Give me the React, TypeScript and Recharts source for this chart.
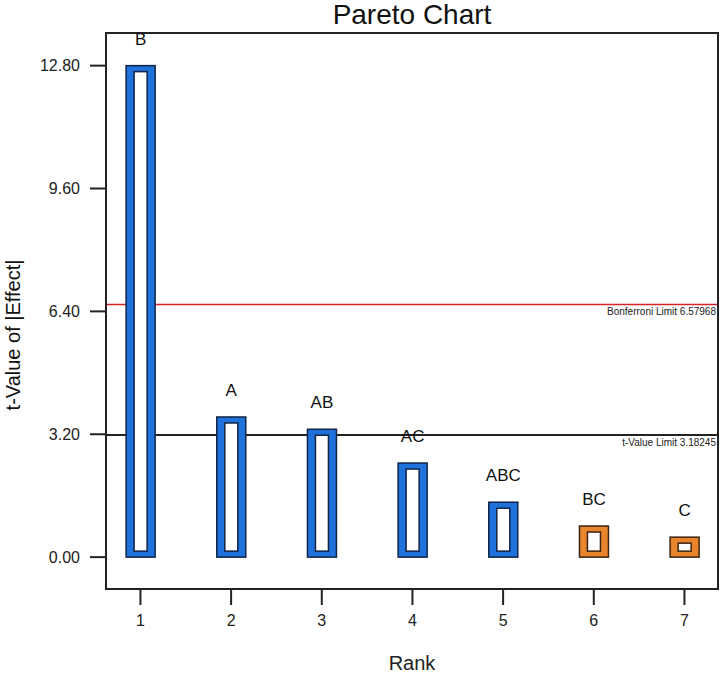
import { BarChart, Bar, XAxis, YAxis, ReferenceLine, ReferenceArea, LabelList } from 'recharts';

// Pareto chart of standardized effects
const ranks = [1, 2, 3, 4, 5, 6, 7];
const terms = ['B', 'A', 'AB', 'AC', 'ABC', 'BC', 'C'];
const tValues = [12.8, 3.65, 3.33, 2.45, 1.43, 0.81, 0.52];
const effectSigns = ['+', '+', '+', '+', '+', '-', '-'];

const yTicks = [0, 3.2, 6.4, 9.6, 12.8];
const xDomain = [0.62, 7.37];
const yDomain = [-0.83, 13.65];

const bonferroniLimit = 6.57968;
const tValueLimit = 3.18245;

const data = ranks.map((rank, i) => ({
  rank,
  term: terms[i],
  tValue: tValues[i],
  sign: effectSigns[i],
}));

const FONT = '"Liberation Sans", Arial, sans-serif';

function EffectBar(props: any) {
  const { x, y, width, height, payload } = props;
  const positive = payload.sign === '+';
  const fill = positive ? '#1f72dc' : '#e8842c';
  const edge = positive ? '#0f2446' : '#3b2410';
  return (
    <g>
      <rect x={x} y={y} width={width} height={height} fill={fill} stroke={edge} strokeWidth={1.5} />
      <rect
        x={x + 8}
        y={y + 6}
        width={Math.max(width - 16, 0)}
        height={Math.max(height - 12, 0)}
        fill="#ffffff"
        stroke={edge}
        strokeWidth={1.5}
      />
    </g>
  );
}

function TermLabel(props: any) {
  const { x, y, width, value } = props;
  return (
    <text x={x + width / 2} y={y - 21} textAnchor="middle" fontSize={17} fontFamily={FONT} fill="#111">
      {value}
    </text>
  );
}

function LimitLabel({ viewBox, text }: any) {
  return (
    <text
      x={viewBox.x + viewBox.width - 2}
      y={viewBox.y + 11}
      textAnchor="end"
      fontSize={10}
      fontFamily={FONT}
      fill="#222"
    >
      {text}
    </text>
  );
}

function YTitle() {
  return (
    <text
      x={13}
      y={335}
      transform="rotate(-90, 13, 335)"
      textAnchor="middle"
      dominantBaseline="central"
      fontSize={20}
      fontFamily={FONT}
      fill="#111"
    >
      t-Value of |Effect|
    </text>
  );
}

function XTitle() {
  return (
    <text x={412} y={670} textAnchor="middle" fontSize={20} fontFamily={FONT} fill="#222">
      Rank
    </text>
  );
}

export default function App() {
  return (
    <div style={{ position: 'absolute', left: 0, top: 0, width: 722, height: 674, background: '#fff' }}>
      <div
        style={{
          position: 'absolute',
          left: 0,
          top: 1,
          width: 824,
          textAlign: 'center',
          fontFamily: FONT,
          fontSize: 28,
          lineHeight: '28px',
          color: '#111',
        }}
      >
        Pareto Chart
      </div>
      <BarChart
        width={722}
        height={674}
        data={data}
        margin={{ top: 33, right: 4, left: 0, bottom: 0 }}
        style={{ fontFamily: FONT }}
      >
        <XAxis
          dataKey="rank"
          type="number"
          domain={xDomain}
          allowDataOverflow
          ticks={ranks}
          height={85}
          tickSize={16}
          tickMargin={10}
          axisLine={{ stroke: '#222', strokeWidth: 2 }}
          tickLine={{ stroke: '#222', strokeWidth: 2 }}
          tick={{ fill: '#222', fontSize: 16, fontFamily: FONT }}
          label={<XTitle />}
        />
        <YAxis
          type="number"
          domain={yDomain}
          allowDataOverflow
          ticks={yTicks}
          width={106}
          tickSize={16}
          tickMargin={10}
          tickFormatter={(v: number) => v.toFixed(2)}
          axisLine={{ stroke: '#222', strokeWidth: 2 }}
          tickLine={{ stroke: '#222', strokeWidth: 2 }}
          tick={{ fill: '#222', fontSize: 16, fontFamily: FONT }}
          label={<YTitle />}
        />
        <ReferenceArea
          x1={xDomain[0]}
          x2={xDomain[1]}
          y1={yDomain[0]}
          y2={yDomain[1]}
          fill="none"
          stroke="#222"
          strokeWidth={2}
          ifOverflow="visible"
        />
        <ReferenceLine
          y={bonferroniLimit}
          stroke="#d42424"
          strokeWidth={1.5}
          zIndex={50}
          label={<LimitLabel text={`Bonferroni Limit ${bonferroniLimit}`} />}
        />
        <ReferenceLine
          y={tValueLimit}
          stroke="#222"
          strokeWidth={2}
          zIndex={50}
          label={<LimitLabel text={`t-Value Limit ${tValueLimit}`} />}
        />
        <Bar dataKey="tValue" barSize={29} shape={<EffectBar />} isAnimationActive={false}>
          <LabelList dataKey="term" content={<TermLabel />} />
        </Bar>
      </BarChart>
    </div>
  );
}
